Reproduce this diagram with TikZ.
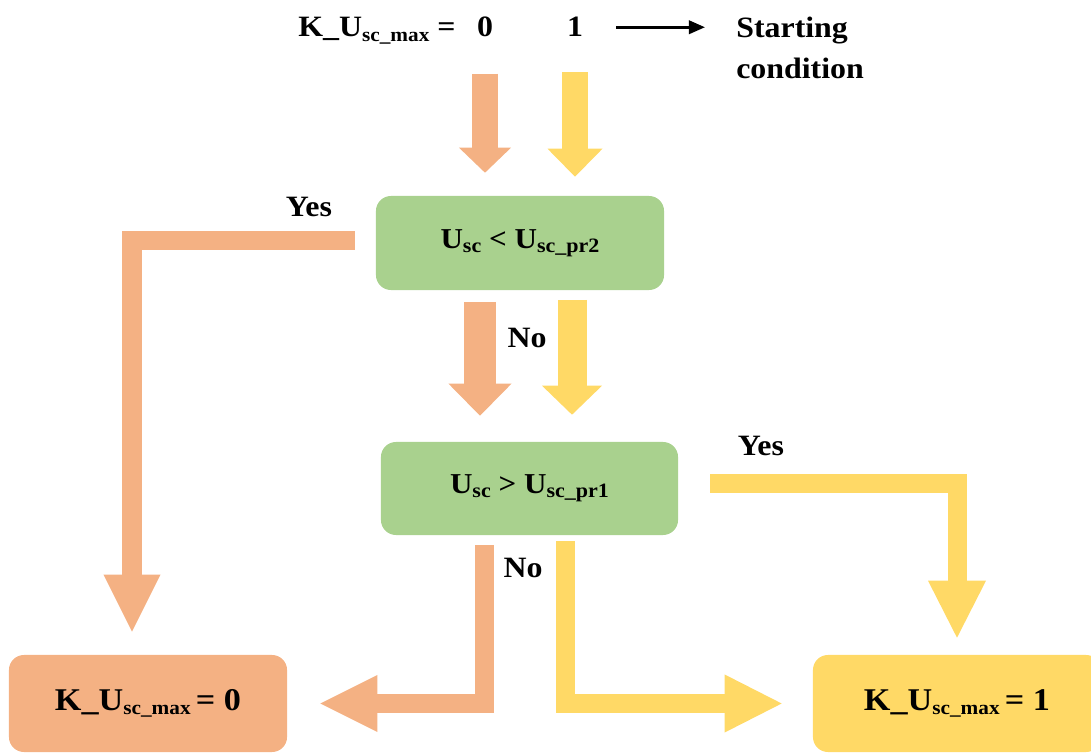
\documentclass[tikz,border=0pt]{standalone}
\usepackage{fontspec}
\setmainfont{Liberation Serif}[FakeStretch=1.08]
\usetikzlibrary{arrows.meta}
\definecolor{peach}{HTML}{F4B183}
\definecolor{sand}{HTML}{FFD966}
\definecolor{leaf}{HTML}{A9D18E}
\newcommand{\sbs}[2]{\raisebox{-0.3ex}{\fontsize{#1}{#1}\selectfont #2}}
\tikzset{
	txt/.style={inner sep=0pt, font=\fontsize{21}{29.8}\selectfont\bfseries},
	box/.style={rounded corners=0.375cm, inner sep=0pt},
	fatshaft/.style={line width=#1, line join=miter},
	fathead/.style 2 args={-{Triangle[line width=0pt, length=#1, width=#2]}},
}
\begin{document}
\begin{tikzpicture}[x=0.025cm, y=-0.025cm]
		\useasboundingbox (0,0) rectangle (1091,753);
		\clip (0,0) rectangle (1091,753);
		\node[txt, anchor=base west] (klabel) at (298,37) {K\_U\sbs{14}{sc\_max} =};
		\node[txt, anchor=base] (kzero) at (485,37) {0};
		\node[txt, anchor=base] (kone) at (575,37) {1};
		\node[txt, anchor=base west, align=left] (start) at (736,79) {Starting\\condition};
		\node[box, fill=leaf, minimum width=7.2cm, minimum height=2.35cm, font=\fontsize{20.5}{20.5}\selectfont\bfseries] (cond2) at (520,243) {U\sbs{14.5}{sc} < U\sbs{14.5}{sc\_pr2}};
		\node[box, fill=leaf, minimum width=7.425cm, minimum height=2.325cm, font=\fontsize{20.5}{20.5}\selectfont\bfseries] (cond1) at (529.5,488.5) {U\sbs{14.5}{sc} > U\sbs{14.5}{sc\_pr1}};
		\node[box, fill=peach, minimum width=6.95cm, minimum height=2.425cm, font=\fontsize{22.5}{22.5}\selectfont\bfseries] (res0) at (148,703.5) {K\_U\sbs{14}{sc\_max}\,= 0};
		\node[box, fill=sand, minimum width=7.2cm, minimum height=2.425cm, font=\fontsize{22.5}{22.5}\selectfont\bfseries] (res1) at (957,703.5) {K\_U\sbs{14}{sc\_max}\,= 1};
		\node[txt] (yes2) at (309,207) {Yes};
		\node[txt] (no2) at (527,338) {No};
		\node[txt] (yes1) at (761,446) {Yes};
		\node[txt] (no1) at (523,568) {No};
		\draw[line width=0.07cm, -{Triangle[length=0.4cm, width=0.33cm]}, shorten <=0.825cm, shorten >=0.775cm] (kone.east) -- (kone.east -| start.west);
		\draw[peach, fatshaft=0.65cm, fathead={0.625cm}{1.3cm}, shorten <=0.9cm, shorten >=0.575cm] (kzero.south) -- (kzero.south |- cond2.north);
		\draw[sand, fatshaft=0.65cm, fathead={0.7cm}{1.375cm}, shorten <=0.875cm, shorten >=0.475cm] (kone.south) -- (kone.south |- cond2.north);
		\draw[peach, fatshaft=0.775cm, fathead={0.8cm}{1.575cm}, shorten <=0.29cm, shorten >=0.65cm] ([xshift=-1cm]cond2.south) -- ([xshift=-1cm]cond2.south |- cond1.north);
		\draw[sand, fatshaft=0.725cm, fathead={0.725cm}{1.5cm}, shorten <=0.24cm, shorten >=0.675cm] ([xshift=1.3cm]cond2.south) -- ([xshift=1.3cm]cond2.south |- cond1.north);
		\draw[peach, fatshaft=0.475cm, fathead={1.425cm}{1.425cm}, shorten <=0.525cm, shorten >=0.575cm] ([yshift=0.05cm]cond2.west) -| ([xshift=-0.4cm]res0.north);
		\draw[sand, fatshaft=0.475cm, fathead={1.425cm}{1.45cm}, shorten <=0.8cm, shorten >=0.425cm] ([yshift=0.125cm]cond1.east) -| (res1.north);
		\draw[peach, fatshaft=0.475cm, fathead={1.425cm}{1.425cm}, shorten <=0.25cm, shorten >=0.825cm] ([xshift=-1.1125cm]cond1.south) |- (res0.east);
		\draw[sand, fatshaft=0.475cm, fathead={1.425cm}{1.45cm}, shorten <=0.15cm, shorten >=0.775cm] ([xshift=0.9cm]cond1.south) |- (res1.west);
	\end{tikzpicture}
\end{document}
